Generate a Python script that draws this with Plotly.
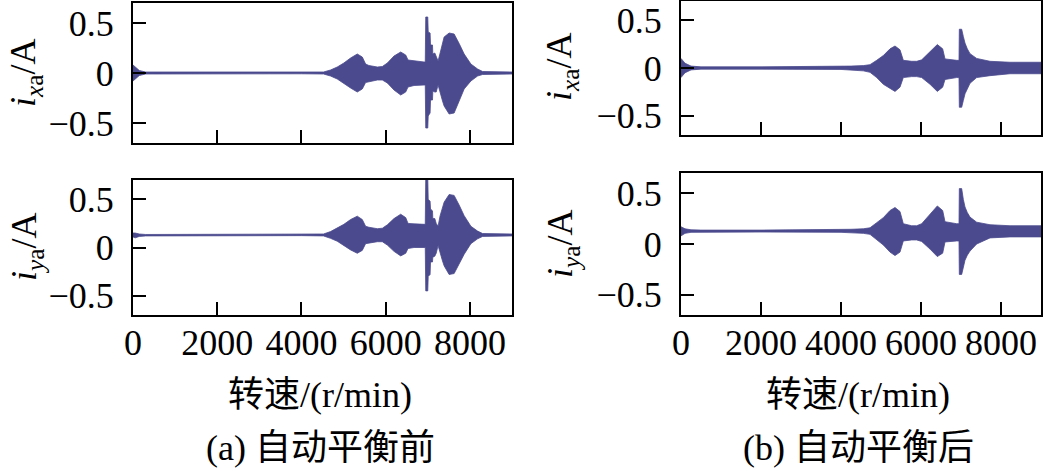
import plotly.graph_objects as go

# ---------------- data ----------------
# (a) before automatic balancing, i_xa
a_x_rpm = [0, 50, 150, 300, 2000, 4000, 4524, 4690, 4850, 5007, 5167, 5326, 5445, 5524, 5602,
           5802, 5921, 6040, 6198, 6357, 6476, 6531, 6674, 6912, 6940, 6952, 7000, 7010, 7055,
           7065, 7112, 7120, 7167, 7200, 7245, 7293, 7350, 7388, 7507, 7626, 7745, 7864, 8024,
           8183, 8302, 9000]
a_x_upper = [0.08, 0.06, 0.025, 0.01, 0.008, 0.008, 0.01, 0.03, 0.06, 0.10, 0.15, 0.19, 0.16, 0.09,
             0.075, 0.06, 0.065, 0.10, 0.17, 0.21, 0.18, 0.13, 0.12, 0.11, 0.11, 0.56, 0.56, 0.41,
             0.40, 0.28, 0.28, 0.19, 0.20, 0.17, 0.12, 0.20, 0.30, 0.36, 0.40, 0.39, 0.295, 0.19,
             0.09, 0.04, 0.015, 0.01]
a_x_lower = [-0.08, -0.06, -0.025, -0.01, -0.008, -0.008, -0.01, -0.03, -0.06, -0.10, -0.15, -0.19,
             -0.16, -0.095, -0.085, -0.07, -0.07, -0.10, -0.17, -0.22, -0.19, -0.14, -0.125, -0.12,
             -0.12, -0.55, -0.55, -0.43, -0.40, -0.27, -0.27, -0.18, -0.19, -0.19, -0.12, -0.20,
             -0.28, -0.33, -0.41, -0.40, -0.28, -0.16, -0.08, -0.03, -0.015, -0.01]

# (a) before automatic balancing, i_ya
a_y_rpm = a_x_rpm
a_y_upper = [0.15, 0.15, 0.14, 0.135, 0.137, 0.137, 0.14, 0.165, 0.20, 0.24, 0.29, 0.325, 0.29, 0.22,
             0.21, 0.195, 0.20, 0.235, 0.30, 0.345, 0.31, 0.25, 0.245, 0.24, 0.24, 0.72, 0.72, 0.50,
             0.48, 0.40, 0.38, 0.30, 0.30, 0.25, 0.22, 0.33, 0.42, 0.47, 0.55, 0.54, 0.44, 0.33,
             0.22, 0.17, 0.145, 0.14]
a_y_lower = [0.11, 0.10, 0.115, 0.12, 0.123, 0.123, 0.12, 0.095, 0.065, 0.025, -0.025, -0.06, -0.03,
             0.04, 0.045, 0.06, 0.06, 0.025, -0.04, -0.087, -0.06, -0.01, 0.0, 0.0, 0.0, -0.45,
             -0.45, -0.30, -0.28, -0.15, -0.15, -0.10, -0.09, -0.06, 0.02, -0.05, -0.14, -0.19,
             -0.28, -0.27, -0.17, -0.07, 0.04, 0.09, 0.115, 0.12]

# (b) after automatic balancing, i_xa
b_x_rpm = [0, 100, 250, 500, 2000, 4000, 4250, 4558, 4725, 4892, 5058, 5225, 5350, 5475, 5558,
           5767, 5892, 6017, 6225, 6408, 6542, 6600, 6892, 6950, 6958, 7017, 7058, 7100, 7158,
           7225, 7392, 7725, 8225, 9000]
b_x_upper = [0.10, 0.05, 0.02, 0.012, 0.012, 0.015, 0.02, 0.025, 0.035, 0.08, 0.13, 0.20, 0.23, 0.19,
             0.08, 0.07, 0.07, 0.085, 0.165, 0.245, 0.20, 0.095, 0.08, 0.08, 0.405, 0.405, 0.33,
             0.26, 0.20, 0.15, 0.10, 0.07, 0.06, 0.06]
b_x_lower = [-0.10, -0.05, -0.02, -0.012, -0.012, -0.015, -0.025, -0.03, -0.045, -0.10, -0.17,
             -0.21, -0.245, -0.20, -0.10, -0.09, -0.09, -0.10, -0.17, -0.245, -0.20, -0.12, -0.10,
             -0.10, -0.41, -0.41, -0.34, -0.27, -0.22, -0.16, -0.10, -0.08, -0.06, -0.06]

# (b) after automatic balancing, i_ya
b_y_rpm = b_x_rpm
b_y_upper = [0.17, 0.15, 0.14, 0.137, 0.137, 0.14, 0.145, 0.15, 0.16, 0.21, 0.26, 0.33, 0.36, 0.32,
             0.20, 0.18, 0.18, 0.20, 0.29, 0.375, 0.33, 0.22, 0.20, 0.20, 0.546, 0.546, 0.44,
             0.365, 0.31, 0.265, 0.215, 0.19, 0.18, 0.18]
b_y_lower = [0.08, 0.105, 0.115, 0.118, 0.118, 0.115, 0.11, 0.105, 0.095, 0.045, -0.01, -0.08,
             -0.114, -0.08, 0.03, 0.04, 0.04, 0.025, -0.05, -0.124, -0.09, 0.02, 0.03, 0.03, -0.30,
             -0.30, -0.22, -0.16, -0.11, -0.07, 0.0, 0.06, 0.07, 0.07]

x_ticks = [0, 2000, 4000, 6000, 8000]
x_tick_labels = ["0", "2000", "4000", "6000", "8000"]
y_ticks = [-0.5, 0, 0.5]
y_tick_labels = ["\u22120.5", "0", "0.5"]

x_title = "转速/(r/min)"
captions = ["(a) 自动平衡前", "(b) 自动平衡后"]
y_title_x = "<i>i</i><sub><i>x</i>a</sub>/A"
y_title_y = "<i>i</i><sub><i>y</i>a</sub>/A"

# ---------------- figure ----------------
W, H = 1043, 471
COLOR = "#4B4A8E"
FONT = "Liberation Serif, Times New Roman, Noto Sans CJK SC, serif"
FS = 36

fig = go.Figure()


def band(rpm, up, low, xa, ya):
    fig.add_trace(go.Scatter(
        x=list(rpm) + list(rpm)[::-1],
        y=list(up) + list(low)[::-1],
        fill="toself", fillcolor=COLOR, mode="lines",
        line=dict(color=COLOR, width=0.8),
        xaxis=xa, yaxis=ya, showlegend=False, hoverinfo="skip"))


band(a_x_rpm, a_x_upper, a_x_lower, "x", "y")
band(a_y_rpm, a_y_upper, a_y_lower, "x2", "y2")
band(b_x_rpm, b_x_upper, b_x_lower, "x3", "y3")
band(b_y_rpm, b_y_upper, b_y_lower, "x4", "y4")


def px_dom(a, b):
    return [a / W, b / W]


def py_dom(top, bottom):
    return [1 - bottom / H, 1 - top / H]


common = dict(showline=True, linewidth=2, linecolor="black", mirror=True,
              ticks="inside", ticklen=13, tickwidth=2, tickcolor="black",
              showgrid=False, zeroline=False, automargin=False,
              tickfont=dict(family=FONT, size=FS, color="black"))

xdoms = {"": px_dom(133, 512), "2": px_dom(133, 512), "3": px_dom(681, 1041), "4": px_dom(681, 1041)}
ydoms = {"": py_dom(3, 143), "2": py_dom(180, 315), "3": py_dom(1, 135), "4": py_dom(173, 315)}

layout = dict(width=W, height=H, margin=dict(l=0, r=0, t=0, b=0, autoexpand=False),
              paper_bgcolor="white", plot_bgcolor="white", showlegend=False)
for k in ["", "2", "3", "4"]:
    layout["xaxis" + k] = dict(common, domain=xdoms[k], range=[0, 9000], anchor="y" + k,
                               tickvals=x_ticks, ticktext=x_tick_labels,
                               showticklabels=k in ("2", "4"), ticklabelstandoff=-5)
    layout["yaxis" + k] = dict(common, domain=ydoms[k], range=[-0.7, 0.7], anchor="x" + k,
                               tickvals=y_ticks, ticktext=y_tick_labels, ticklabelstandoff=10)
fig.update_layout(**layout)

ann_font = dict(family=FONT, size=FS, color="black")
anns = []
# y titles
for (xc, yc, txt) in [(26, 73, y_title_x), (26, 247, y_title_y),
                      (562, 67, y_title_x), (562, 244, y_title_y)]:
    anns.append(dict(x=xc / W, y=1 - yc / H, xref="paper", yref="paper", text=txt,
                     textangle=-90, showarrow=False, font=ann_font,
                     xanchor="center", yanchor="middle"))
# x titles and captions
for (xc, cap) in [(320, captions[0]), (858, captions[1])]:
    anns.append(dict(x=xc / W, y=1 - 395 / H, xref="paper", yref="paper", text=x_title,
                     showarrow=False, font=ann_font, xanchor="center", yanchor="middle"))
    anns.append(dict(x=xc / W, y=1 - 448 / H, xref="paper", yref="paper", text=cap,
                     showarrow=False, font=ann_font, xanchor="center", yanchor="middle"))
fig.update_layout(annotations=anns)

fig.write_html("out.html", config={"displayModeBar": False, "staticPlot": True},
               post_script="document.body.style.margin='0';document.body.style.overflow='hidden';")
